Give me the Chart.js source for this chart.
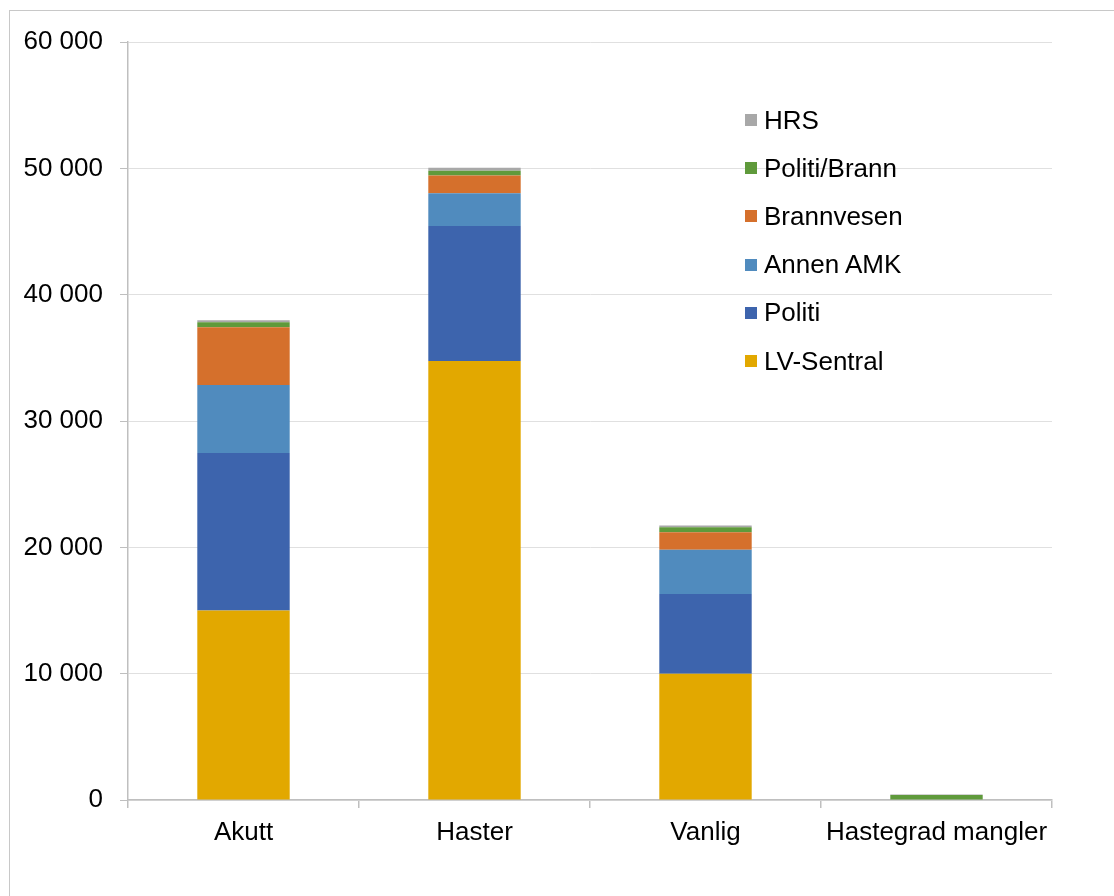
<!DOCTYPE html>
<html>
<head>
<meta charset="utf-8">
<script src="https://cdn.jsdelivr.net/npm/chart.js@4"></script>
<style>
  html, body { margin: 0; padding: 0; background: #fff; }
  body { width: 1114px; height: 896px; position: relative; overflow: hidden; font-family: "Liberation Sans", Arial, sans-serif; }
  #frame { position: absolute; left: 9px; top: 10px; width: 1200px; height: 1000px; border: 1px solid #c8c8c8; box-sizing: border-box; }
  #wrap { position: absolute; left: 0; top: 0; width: 1114px; height: 896px; }
  #legend { position: absolute; left: 745px; top: 96px; }
  .item { display: flex; align-items: center; height: 48.2px; font-size: 26px; color: #000; }
  .box { width: 12px; height: 12px; margin-right: 7px; }
</style>
</head>
<body>
<div id="frame"></div>
<div id="wrap"><canvas id="myChart" width="1114" height="896"></canvas></div>
<div id="legend"></div>
<script>
// categories and series
const categories = ['Akutt', 'Haster', 'Vanlig', 'Hastegrad mangler'];
const lvSentral  = [15000, 34750, 10000, 0];
const politi     = [12470, 10690, 6300, 0];
const annenAmk   = [5380, 2590, 3510, 0];
const brannvesen = [4570, 1400, 1380, 0];
const politiBrann = [400, 370, 400, 390];
const hrs        = [150, 240, 130, 40];
const yTicks = [0, 10000, 20000, 30000, 40000, 50000, 60000];

const series = [
  { label: 'LV-Sentral', data: lvSentral, color: '#E2A800' },
  { label: 'Politi', data: politi, color: '#3D64AD' },
  { label: 'Annen AMK', data: annenAmk, color: '#508BBE' },
  { label: 'Brannvesen', data: brannvesen, color: '#D5702C' },
  { label: 'Politi/Brann', data: politiBrann, color: '#5F9A3B' },
  { label: 'HRS', data: hrs, color: '#A8A8A8' }
];

function fmt(v) {
  return String(v).replace(/\B(?=(\d{3})+(?!\d))/g, ' ');
}

const ctx = document.getElementById('myChart').getContext('2d');
new Chart(ctx, {
  type: 'bar',
  data: {
    labels: categories,
    datasets: series.map(s => ({
      label: s.label,
      data: s.data,
      backgroundColor: s.color,
      borderWidth: 0,
      categoryPercentage: 1,
      barPercentage: 0.4
    }))
  },
  options: {
    responsive: false,
    animation: false,
    layout: { padding: { left: 0, top: 42, right: 62, bottom: 0 } },
    plugins: { legend: { display: false }, tooltip: { enabled: false } },
    scales: {
      x: {
        stacked: true,
        afterFit: s => { s.height = 96; },
        grid: { display: true, offset: true, drawOnChartArea: false, drawTicks: true, tickLength: 8, color: '#BFBFBF', lineWidth: 1.5 },
        border: { color: '#BFBFBF', width: 1.5 },
        ticks: { color: '#000', font: { family: 'Liberation Sans', size: 26 }, padding: 9, maxRotation: 0, autoSkip: false }
      },
      y: {
        stacked: true,
        min: 0,
        max: 60000,
        afterFit: s => { s.width = 128; },
        afterBuildTicks: s => { s.ticks = yTicks.map(v => ({ value: v })); },
        grid: { color: '#E0E0E0', lineWidth: 1, drawTicks: true, tickLength: 8, tickColor: '#BFBFBF' },
        border: { color: '#BFBFBF', width: 1.5 },
        ticks: { color: '#000', font: { family: 'Liberation Sans', size: 26 }, padding: 17, callback: v => fmt(v) }
      }
    }
  }
});

// legend, reversed order like the original
const legend = document.getElementById('legend');
series.slice().reverse().forEach(s => {
  const row = document.createElement('div');
  row.className = 'item';
  row.innerHTML = '<span class="box" style="background:' + s.color + '"></span>' + s.label;
  legend.appendChild(row);
});
</script>
</body>
</html>
